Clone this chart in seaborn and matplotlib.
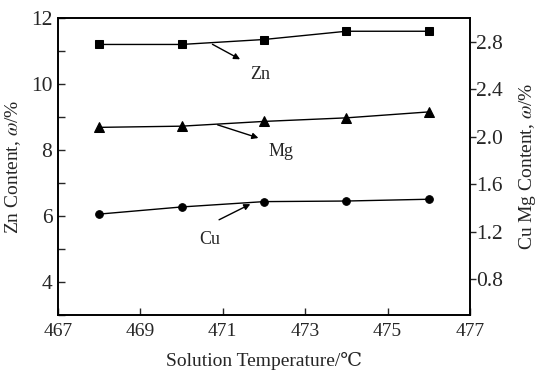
import matplotlib
matplotlib.use("Agg")
import matplotlib.pyplot as plt
from matplotlib.ticker import MultipleLocator
import seaborn as sns
import pandas as pd

# data
temp = [468, 470, 472, 474, 476]
zn = [11.2, 11.2, 11.35, 11.6, 11.6]     # left axis
mg = [2.08, 2.09, 2.13, 2.16, 2.21]      # right axis
cu = [1.35, 1.41, 1.455, 1.46, 1.475]    # right axis

sns.set_style("ticks")
plt.rcParams['font.family'] = ['Liberation Serif', 'DejaVu Serif']
plt.rcParams['mathtext.fontset'] = 'stix'

df = pd.DataFrame({'T': temp, 'Zn': zn, 'Mg': mg, 'Cu': cu})

fig = plt.figure(figsize=(5.42, 3.76), dpi=100)
ax = fig.add_axes([0.107, 0.162, 0.760, 0.790])
ax2 = ax.twinx()

sns.lineplot(data=df, x='T', y='Zn', ax=ax, color='black', lw=1.0,
             marker='s', markersize=5.5, markeredgecolor='black')
sns.lineplot(data=df, x='T', y='Mg', ax=ax2, color='black', lw=1.0,
             marker='^', markersize=6.5, markeredgecolor='black')
sns.lineplot(data=df, x='T', y='Cu', ax=ax2, color='black', lw=1.0,
             marker='o', markersize=5.5, markeredgecolor='black')

ax.set_xlim(467, 477)
ax.set_ylim(3, 12)
ax2.set_ylim(0.5, 3.0)
ax.set_xticks([467, 469, 471, 473, 475, 477])
ax.set_yticks([4, 6, 8, 10, 12])
ax.yaxis.set_minor_locator(MultipleLocator(1))
ax2.set_yticks([0.8, 1.2, 1.6, 2.0, 2.4, 2.8])
ax2.set_yticklabels(['0.8', '1.2', '1.6', '2.0', '2.4', '2.8'])

ax.tick_params(axis='x', direction='in', length=5, width=1, labelsize=14, pad=6)
ax.tick_params(axis='y', which='major', direction='in', length=5, width=1, labelsize=15.5, pad=4)
ax.tick_params(axis='y', which='minor', direction='in', length=5, width=1)
ax2.tick_params(axis='y', direction='out', length=4, width=1, labelsize=15.5, pad=0.5)

for a in (ax, ax2):
    for s in a.spines.values():
        s.set_linewidth(1.2)
        s.set_color('black')

ax.set_xlabel('Solution Temperature/\u2103', fontsize=14, labelpad=8)
ax.set_ylabel(r'Zn Content, $\omega$/%', fontsize=14, labelpad=6)
ax2.set_ylabel(r'Cu Mg Content, $\omega$/%', fontsize=14, labelpad=10)

arrow = dict(arrowstyle='-|>', color='black', lw=1.0, mutation_scale=9)
ax.annotate('', xy=(471.48, 10.71), xytext=(470.69, 11.245), arrowprops=arrow)
ax.text(471.90, 10.30, 'Zn', fontsize=13, ha='center', va='center')
ax.annotate('', xy=(471.93, 8.34), xytext=(470.81, 8.79), arrowprops=arrow)
ax.text(472.41, 7.95, 'Mg', fontsize=13, ha='center', va='center')
ax.annotate('', xy=(471.73, 6.40), xytext=(470.85, 5.85), arrowprops=arrow)
ax.text(470.69, 5.30, 'Cu', fontsize=13, ha='center', va='center')

fig.savefig('out.png', dpi=100)
